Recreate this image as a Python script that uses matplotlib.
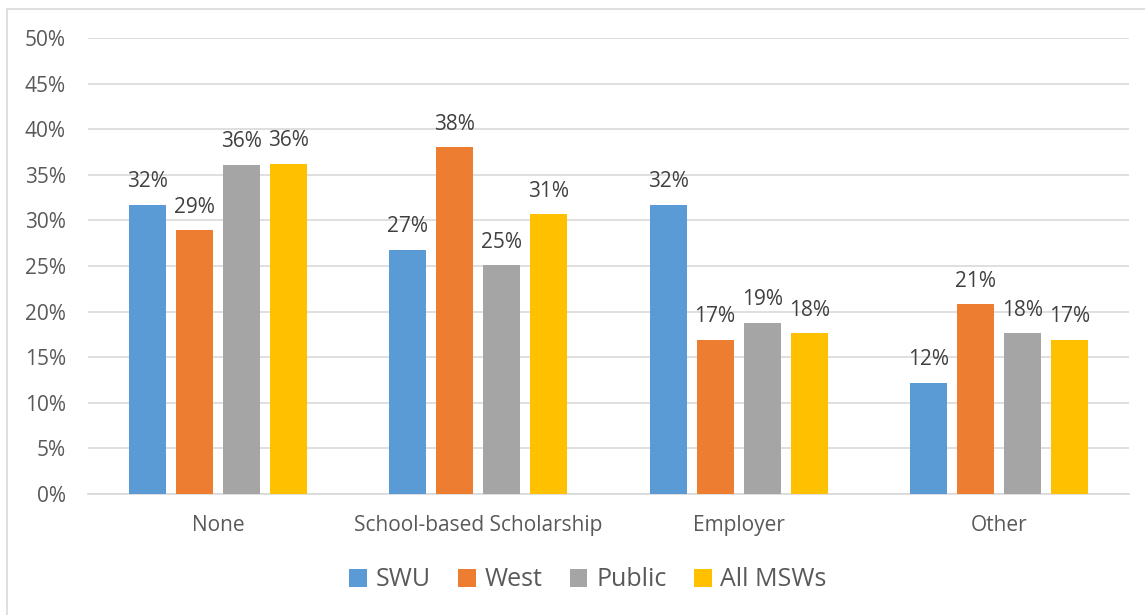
import numpy as np
import matplotlib.pyplot as plt
from matplotlib.patches import Rectangle

categories = ['None', 'School-based Scholarship', 'Employer', 'Other']
series_names = ['SWU', 'West', 'Public', 'All MSWs']
swu = [31.7, 26.8, 31.7, 12.2]
west = [28.9, 38.0, 16.9, 20.8]
public = [36.1, 25.1, 18.8, 17.6]
all_msws = [36.2, 30.7, 17.6, 16.9]
yticks = [0, 5, 10, 15, 20, 25, 30, 35, 40, 45, 50]

colors = ['#5B9BD5', '#ED7D31', '#A5A5A5', '#FFC000']
plt.rcParams['font.family'] = ['Open Sans', 'DejaVu Sans']

fig = plt.figure(figsize=(11.45, 6.15), dpi=100)
ax = fig.add_axes([88/1145, 1-494/615, (1129-88)/1145, (494-38)/615])

# chart outline like excel
fig.patches.append(Rectangle((7/1145, -0.05), 1.2, 1.05 - 9.5/615,
                             transform=fig.transFigure, fill=False,
                             edgecolor='#d9d9d9', linewidth=1.2))

x = np.arange(len(categories))
w = 37/260
step = 47/260
data = [swu, west, public, all_msws]
for i, (vals, name) in enumerate(zip(data, series_names)):
    pos = x + (i - 1.5)*step
    bars = ax.bar(pos, vals, width=w, color=colors[i], label=name, zorder=3)
    for b, v in zip(bars, vals):
        ax.annotate('%d%%' % int(v + 0.5), (b.get_x() + b.get_width()/2, v),
                    xytext=(0, 9), textcoords='offset points',
                    ha='center', va='bottom', fontsize=15, color='#404040')

ax.set_xlim(-0.5, 3.5)
ax.set_ylim(0, 50)
ax.set_yticks(yticks)
ax.set_yticklabels(['%d%%' % t for t in yticks])
ax.set_xticks(x)
ax.set_xticklabels(categories)
ax.yaxis.grid(True, color='#d9d9d9', linewidth=1.2, zorder=0)
ax.set_axisbelow(True)
for s in ['top', 'right', 'left']:
    ax.spines[s].set_visible(False)
ax.spines['bottom'].set_color('#d9d9d9')
ax.spines['bottom'].set_linewidth(1.2)
ax.tick_params(axis='both', length=0, labelsize=15, colors='#595959')
ax.tick_params(axis='y', pad=16)
ax.tick_params(axis='x', pad=15)

fig.legend(loc='center', bbox_to_anchor=(588/1145, 1-580/615), ncol=4,
           frameon=False, fontsize=18, handlelength=0.7, handleheight=0.7,
           handletextpad=0.35, columnspacing=1.1, labelcolor='#595959')

fig.savefig('out.png', dpi=100)
